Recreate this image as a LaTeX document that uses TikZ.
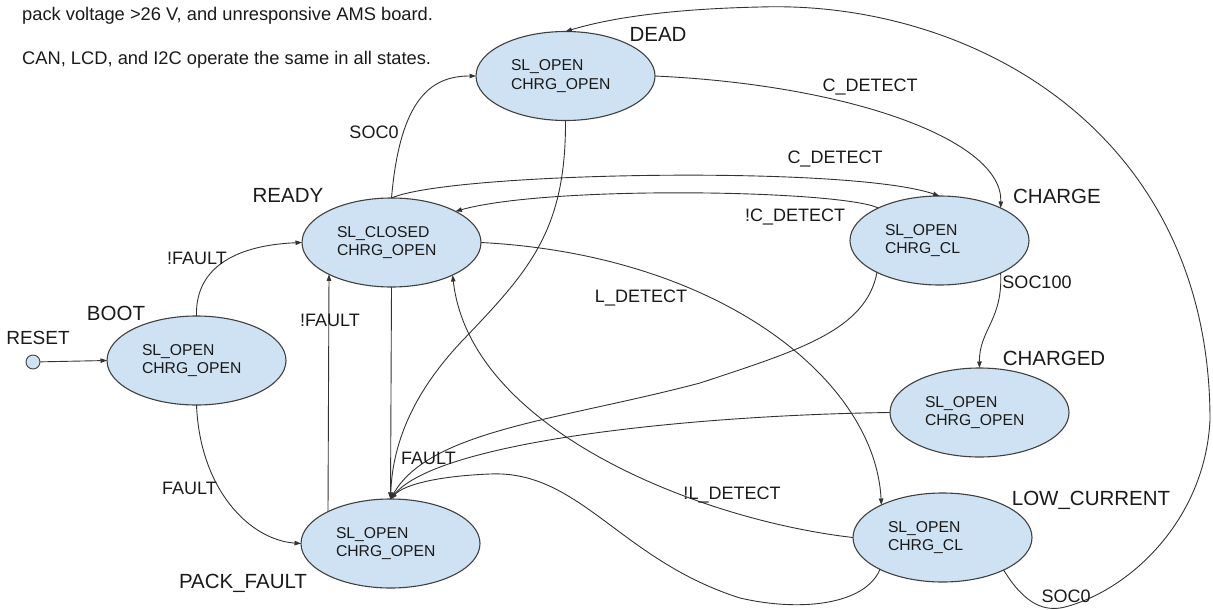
\documentclass[tikz,border=0pt]{standalone}
\usepackage{fontspec}
\setmainfont{Liberation Sans}
\usetikzlibrary{arrows.meta,shapes.geometric}
\definecolor{statefill}{HTML}{CFE2F3}
\definecolor{edgeline}{HTML}{333333}
\definecolor{rim}{HTML}{404040}
\definecolor{ink}{HTML}{1A1A1A}
\begin{document}
\begin{tikzpicture}[x=1pt,y=-1pt,
  state/.style={ellipse, draw=rim, line width=1.1pt, fill=statefill,
    minimum width=179pt, minimum height=89pt, inner sep=0pt, outer sep=0pt,
    text width=109pt, align=left, text=ink,
    font=\fontsize{15.7}{18.5}\selectfont},
  statename/.style={font=\fontsize{20.5}{24}\selectfont, text=ink, inner sep=0pt},
  cond/.style={font=\fontsize{18}{21}\selectfont, text=ink, inner sep=0pt},
  note/.style={font=\fontsize{18.3}{22}\selectfont, text=ink, inner sep=0pt, anchor=base west},
  trans/.style={draw=edgeline, line width=0.9pt, -{Triangle[length=6.5pt,width=4.5pt]}},
]
\useasboundingbox (0,0) rectangle (1213,610);

% notes
\node[note] (note1) at (22,20.7) {pack voltage >26 V, and unresponsive AMS board.};
\node[note] (note2) at (22,65) {CAN, LCD, and I2C operate the same in all states.};

% states
\node[state] (boot)    at (196.5,360.5) {SL\_OPEN\\CHRG\_OPEN};
\node[state] (ready)   at (391.5,242.5) {SL\_CLOSED\\CHRG\_OPEN};
\node[state] (dead)    at (565.5,76)    {SL\_OPEN\\CHRG\_OPEN};
\node[state] (charge)  at (939.5,240.5) {SL\_OPEN\\CHRG\_CL};
\node[state] (charged) at (979.5,412.5) {SL\_OPEN\\CHRG\_OPEN};
\node[state] (lowc)    at (942.5,537.5) {SL\_OPEN\\CHRG\_CL};
\node[state] (packf)   at (390.5,543.5) {SL\_OPEN\\CHRG\_OPEN};

% reset point
\node[circle, draw=rim, line width=0.9pt, fill=statefill, minimum size=14pt, inner sep=0pt] (reset) at (33,362) {};

% state names
\node[statename] (nboot)    at (116,313)  {BOOT};
\node[statename] (nready)   at (288,195)  {READY};
\node[statename] (ndead)    at (658,34)   {DEAD};
\node[statename] (ncharge)  at (1057,196) {CHARGE};
\node[statename] (ncharged) at (1054,358) {CHARGED};
\node[statename] (nlowc)    at (1091,500) {LOW\_CURRENT};
\node[statename] (npackf)   at (243,583)  {PACK\_FAULT};
\node[font=\fontsize{19}{22}\selectfont, text=ink, inner sep=0pt] (nreset) at (38,338) {RESET};

% transitions
\draw[trans] (reset) -- (boot.west);
\draw[trans] (boot.north) .. controls (195,265) and (240,245) .. (ready.west);
\draw[trans] (boot.south) .. controls (200,490) and (250,540) .. (packf.west);
\draw[trans] (packf.153.6) -- (ready.207.4);
\draw[trans] (ready.south) -- (packf.north);
\draw[trans] (ready.north) .. controls (400,100) and (430,76) .. (dead.west);
\draw[trans] (ready.north) .. controls (450,172) and (850,165) .. (charge.north);
\draw[trans] (charge.152) .. controls (840,190) and (550,185) .. (ready.26);
\draw[trans] (ready.east) .. controls (720,255) and (875,380) .. (lowc.152);
\draw[trans] (lowc.west) .. controls (700,520) and (470,430) .. (ready.-28);
\draw[trans] (dead.east) .. controls (850,85) and (1003,140) .. (charge.28);
\draw[trans] (dead.south) .. controls (566,230) and (530,270) .. (463,340)
  .. controls (425,380) and (393,430) .. (packf.north);
\draw[trans] (charge.-28) .. controls (1003,320) and (979,330) .. (charged.north);
\draw[trans] (charge.207) .. controls (866,330) and (800,350) .. (700,383)
  .. controls (560,420) and (430,430) .. (packf.north);
\draw[trans] (charged.west) .. controls (700,415) and (440,440) .. (packf.north);
\draw[trans] (lowc.207) .. controls (865,605) and (800,612) .. (740,598)
  .. controls (620,560) and (580,470) .. (490,474)
  .. controls (440,476) and (405,484) .. (packf.north);
\draw[trans] (lowc.-28) .. controls (1025,605) and (1045,612) .. (1065,607)
  .. controls (1130,590) and (1205,520) .. (1210,420)
  .. controls (1210,130) and (970,0) .. (760,7)
  .. controls (670,9) and (610,18) .. (dead.north);

% conditions
\node[cond] (c1)  at (197,258)   {!FAULT};
\node[cond] (c2)  at (189.5,488) {FAULT};
\node[cond] (c3)  at (330,320)   {!FAULT};
\node[cond] (c4)  at (374,132)   {SOC0};
\node[cond] (c5)  at (870,87)    {C\_DETECT};
\node[cond] (c6)  at (835,159)   {C\_DETECT};
\node[cond] (c7)  at (795,217)   {!C\_DETECT};
\node[cond] (c8)  at (641,298)   {L\_DETECT};
\node[cond] (c9)  at (1037,282)  {SOC100};
\node[cond] (c10) at (428.5,458) {FAULT};
\node[cond] (c11) at (732,495)   {!L\_DETECT};
\node[cond] (c12) at (1066,596)  {SOC0};
\end{tikzpicture}
\end{document}
